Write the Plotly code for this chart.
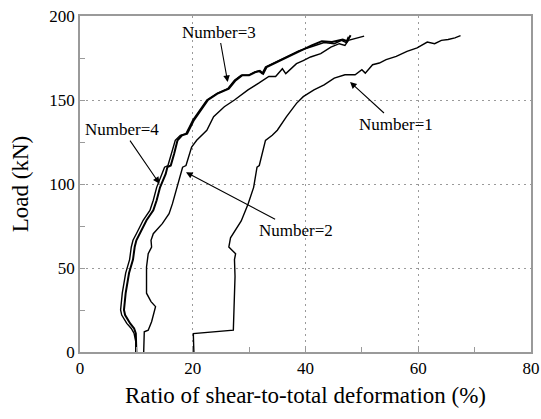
import plotly.graph_objects as go

# Ratio of shear-to-total deformation (%) vs load (kN) for each number of layers
n1_ratio = [20.2, 20.2, 20.1, 27.2, 27.3, 27.5, 27.4, 27.6, 26.4, 26.7, 28.6, 29.8, 30.8, 31.4, 31.8,
            32.9, 34.1, 35.0, 36.6, 38.4, 39.6, 41.5, 43.3, 45.1, 47.0, 48.8, 50.0, 50.6, 51.9,
            53.1, 54.3, 56.1, 58.0, 59.8, 61.6, 62.9, 64.1, 65.3, 66.5, 67.5]
n1_load = [0, 6, 11, 13, 30, 45, 55, 58.5, 62.5, 68, 78, 88, 98, 110, 111,
           126, 129, 132, 140, 148, 152, 156, 159, 163, 165, 165, 168, 166, 171,
           172, 174, 176, 179, 181, 184.5, 183.5, 185.5, 186, 187, 188.3]

n2_ratio = [11.3, 11.3, 11.4, 12.1, 12.7, 13.4, 12.6, 11.8, 11.8, 12.1, 12.7, 12.6, 13.0, 14.6, 15.8,
            16.4, 17.0, 17.6, 18.2, 18.8, 19.8, 20.7, 21.9, 22.5, 23.7, 25.6, 27.4, 29.8, 31.7,
            33.5, 34.7, 35.9, 36.5, 38.4, 39.6, 40.9, 42.7, 44.5, 46.0, 47.0, 47.6, 48.8, 49.1, 50.4]
n2_load = [0, 6, 12, 13, 18, 27, 30, 35, 50.6, 58.5, 62.5, 66.5, 70.4, 76.4, 82.3,
           88.3, 96, 104, 110, 111, 122, 126, 130, 132, 140, 146, 150, 156, 160,
           164, 164, 168.6, 165.7, 171.6, 173.5, 175.6, 177.6, 181.5, 183.5, 182.5, 185.5, 186.5, 186.8, 188]

n3_ratio = [10.0, 10.0, 9.9, 9.6, 8.9, 8.0, 7.8, 8.1, 8.7, 9.4, 9.7, 10.0, 10.6, 11.8, 13.0,
            13.6, 14.2, 15.2, 15.5, 16.1, 16.7, 17.3, 18.1, 19.0, 20.2, 21.5, 22.7, 24.5, 26.4,
            27.6, 28.8, 30.0, 31.2, 31.9, 32.5, 33.1, 34.3, 36.1, 38.6, 41.1, 42.9, 44.7, 46.6, 47.4, 48.0]
n3_load = [0, 6, 11, 14, 17, 22, 25, 35, 47, 55, 62.5, 66.5, 70.4, 78.4, 84.3,
           90.3, 98, 106, 110, 111, 118, 126, 129, 130, 138, 144, 150, 154, 156.7,
           161.7, 164.7, 164.7, 166.7, 167.3, 165.7, 169.6, 171.6, 174.6, 178.6, 182.5, 185, 184.5, 186, 185, 188.5]

n4_ratio = [9.9, 9.9, 9.6, 9.1, 8.3, 7.4, 7.2, 7.5, 8.1, 8.8, 9.1, 9.4, 10.0, 11.2, 12.4,
            13.0, 13.6, 14.6, 15.0, 15.6, 16.2, 16.9, 17.8, 18.8, 20.0, 21.3, 22.5, 24.3, 26.2,
            27.4, 28.6, 29.8, 31.0, 31.7, 32.3, 32.9, 34.3, 36.3, 38.8, 41.3, 43.3, 45.1, 46.4, 47.2, 47.6]
n4_load = [0, 6, 11, 14, 17, 22, 25, 35, 47, 55, 62.5, 66.5, 70.4, 78.4, 84.3,
           90.3, 98, 106, 110, 111, 118, 126, 129, 130, 138, 144, 150, 154, 156.7,
           161.7, 164.7, 164.7, 166.7, 167.3, 165.7, 169.6, 172, 175.2, 179.2, 182.0, 184.2, 183.5, 185.5, 184.2, 187.6]

series = [
    ("Number=1", n1_ratio, n1_load, 1.4),
    ("Number=2", n2_ratio, n2_load, 1.4),
    ("Number=3", n3_ratio, n3_load, 2.0),
    ("Number=4", n4_ratio, n4_load, 1.4),
]

# Label text, arrow tip (data coords) and label offset from the tip (pixels)
labels = [
    ("Number=1", 47.9, 160.7, 46, 42),
    ("Number=2", 18.8, 107.0, 110, 58),
    ("Number=3", 26.2, 160.7, -9, -50),
    ("Number=4", 14.1, 100.2, -37, -54),
]

SERIF = "Liberation Serif, Times New Roman, Times, serif"

fig = go.Figure()
for name, xs, ys, w in series:
    fig.add_trace(go.Scatter(x=xs, y=ys, mode="lines", name=name,
                             line=dict(color="black", width=w), showlegend=False))

for text, ax_, ay_, dx, dy in labels:
    fig.add_annotation(x=ax_, y=ay_, xref="x", yref="y", text=text, showarrow=True,
                       ax=dx, ay=dy, arrowhead=2, arrowsize=1.2, arrowwidth=1.1,
                       arrowcolor="black", standoff=0,
                       font=dict(family=SERIF, size=17, color="black"))

axis_common = dict(showline=True, mirror=True, linecolor="#9a9a9a", linewidth=1.5,
                   ticks="inside", ticklen=5, tickcolor="#9a9a9a",
                   showgrid=True, gridcolor="#9a9a9a", gridwidth=1, griddash="2px,4px",
                   zeroline=False, automargin=False,
                   tickfont=dict(family=SERIF, size=17, color="black"))

fig.update_xaxes(range=[0, 80], tickvals=[0, 20, 40, 60, 80],
                 minor=dict(tickvals=[10, 30, 50, 70], ticks="inside", ticklen=5,
                            tickcolor="#9a9a9a", showgrid=False),
                 title=dict(text="Ratio of shear-to-total deformation (%)", standoff=10,
                            font=dict(family=SERIF, size=23, color="black")),
                 **axis_common)
fig.update_yaxes(range=[0, 200], tickvals=[0, 50, 100, 150, 200],
                 minor=dict(tickvals=[25, 75, 125, 175], ticks="inside", ticklen=5,
                            tickcolor="#9a9a9a", showgrid=False),
                 title=dict(text="Load (kN)", standoff=14,
                            font=dict(family=SERIF, size=23, color="black")),
                 **axis_common)

fig.update_layout(width=541, height=419, plot_bgcolor="white", paper_bgcolor="white",
                  font=dict(family=SERIF),
                  margin=dict(l=80, r=10, t=16, b=67))

fig.write_html("out.html")
